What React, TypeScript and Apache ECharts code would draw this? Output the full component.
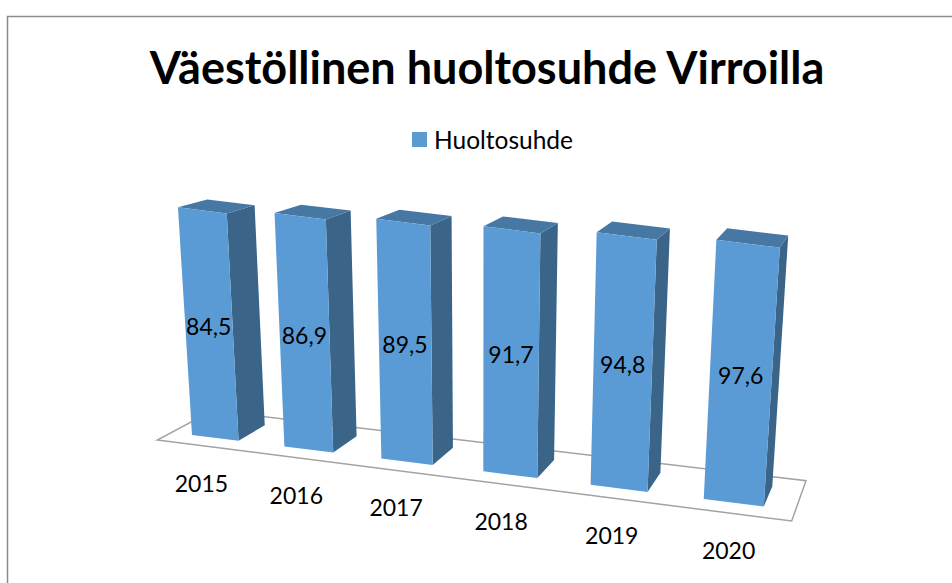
import React, { useEffect, useRef } from "react";
import * as echarts from "echarts";

const titleText = "Väestöllinen huoltosuhde Virroilla";
const seriesName = "Huoltosuhde";
const years = ["2015", "2016", "2017", "2018", "2019", "2020"];
const values = [84.5, 86.9, 89.5, 91.7, 94.8, 97.6];

const FONT = "Lato";
const BLUE = "#5B9BD5";
const TOP = "#4777A3";
const SIDE = "#3A6589";
const FRAME = "#8C8C8C";

// Floor corners on screen, in order: front-left, front-right, back-right, back-left
const Q = [[157.3, 440], [791.7, 521], [806, 480.7], [212.5, 410.6]];
const VP = [480, 5095]; // vanishing point of the vertical edges
const barFill = 0.51;
const barShift = -0.003;
const depth0 = 0.247;
const depth1 = 0.756;
const liftPerPixel = 0.000578 / 3; // grid is 300px for 0..100
const depthShrink = 0.07; // heights shrink with depth

function makeFloor() {
  const [[x0, y0], [x1, y1], [x2, y2], [x3, y3]] = Q;
  const dx1 = x1 - x2, dy1 = y1 - y2, dx2 = x3 - x2, dy2 = y3 - y2;
  const sx = x0 - x1 + x2 - x3, sy = y0 - y1 + y2 - y3;
  const den = dx1 * dy2 - dx2 * dy1;
  const g = (sx * dy2 - dx2 * sy) / den;
  const h = (dx1 * sy - sx * dy1) / den;
  const a = x1 - x0 + g * x1, b = x3 - x0 + h * x3;
  const d = y1 - y0 + g * y1, e = y3 - y0 + h * y3;
  return (s: number, t: number) => {
    const w = g * s + h * t + 1;
    return [(a * s + b * t + x0) / w, (d * s + e * t + y0) / w];
  };
}
const floor = makeFloor();
const project = (s: number, t: number, lift: number) => {
  const p = floor(s, t);
  const k = lift * (1 - depthShrink * (t - depth0));
  return [p[0] + k * (p[0] - VP[0]), p[1] + k * (p[1] - VP[1])];
};

function renderFloor() {
  return {
    type: "polygon",
    shape: { points: [floor(0, 0), floor(1, 0), floor(1, 1), floor(0, 1)] },
    style: { fill: "#ffffff", stroke: "#A3A3A3", lineWidth: 1.5 },
  };
}

function renderBar(params: any, api: any) {
  const cs = params.coordSys;
  const base = api.coord([api.value(0), 0]);
  const head = api.coord([api.value(0), api.value(1)]);
  const band = api.size([1, 0])[0] / cs.width;
  const sc = (base[0] - cs.x) / cs.width + barShift;
  const s0 = sc - (band * barFill) / 2;
  const s1 = sc + (band * barFill) / 2;
  const lift = (base[1] - head[1]) * liftPerPixel;

  const fl = project(s0, depth0, 0), fr = project(s1, depth0, 0), br = project(s1, depth1, 0);
  const tfl = project(s0, depth0, lift), tfr = project(s1, depth0, lift);
  const tbr = project(s1, depth1, lift), tbl = project(s0, depth1, lift);
  const mid = project(sc, depth0, lift / 2);
  const tick = floor(sc, 0);
  const value = api.value(1);
  const text = (t: string, x: number, y: number) => ({
    type: "text",
    x,
    y,
    z2: 5,
    style: { text: t, fontFamily: FONT, fontSize: 23, fill: "#000", align: "center", verticalAlign: "middle" },
  });
  return {
    type: "group",
    children: [
      { type: "polygon", shape: { points: [fr, br, tbr, tfr] }, style: { fill: SIDE } },
      { type: "polygon", shape: { points: [tfl, tfr, tbr, tbl] }, style: { fill: TOP } },
      { type: "polygon", shape: { points: [fl, fr, tfr, tfl] }, style: { fill: BLUE } },
      text(String(value).replace(".", ","), mid[0], mid[1] + 2),
      text(years[params.dataIndex], tick[0], tick[1] + 37),
    ],
  };
}

export default function App() {
  const ref = useRef<HTMLDivElement>(null);
  useEffect(() => {
    const chart = echarts.init(ref.current!, null, { renderer: "svg" });
    chart.setOption({
      animation: false,
      backgroundColor: "#ffffff",
      title: {
        text: titleText,
        left: 482,
        top: 39,
        textAlign: "center",
        textStyle: { fontFamily: FONT, fontWeight: "bold", fontSize: 45, color: "#000" },
      },
      legend: {
        data: [seriesName],
        left: 412,
        top: 127,
        padding: 0,
        itemWidth: 15,
        itemHeight: 15,
        icon: "rect",
        textStyle: { fontFamily: FONT, fontSize: 24.5, color: "#000", padding: [0, 0, 0, 2] },
      },
      grid: { left: 0, top: 100, width: 600, height: 300 },
      xAxis: { type: "category", data: years, show: false },
      yAxis: { type: "value", min: 0, max: 100, show: false },
      graphic: [
        {
          type: "polyline",
          shape: { points: [[7.5, 583], [7.5, 16.5], [952, 16.5]] },
          style: { fill: "none", stroke: FRAME, lineWidth: 1.5 },
          silent: true,
        },
      ],
      series: [
        {
          type: "custom",
          name: "floor",
          coordinateSystem: "cartesian2d",
          renderItem: renderFloor,
          data: [[years[0], 0]],
          encode: { x: 0, y: 1 },
          silent: true,
          z: 1,
        },
        {
          type: "custom",
          name: seriesName,
          coordinateSystem: "cartesian2d",
          renderItem: renderBar,
          data: values.map((v, i) => [years[i], v]),
          encode: { x: 0, y: 1 },
          itemStyle: { color: BLUE },
          clip: false,
          z: 2,
        },
      ],
    });
    return () => chart.dispose();
  }, []);
  return <div ref={ref} style={{ position: "absolute", left: 0, top: 0, width: 952, height: 583 }} />;
}
